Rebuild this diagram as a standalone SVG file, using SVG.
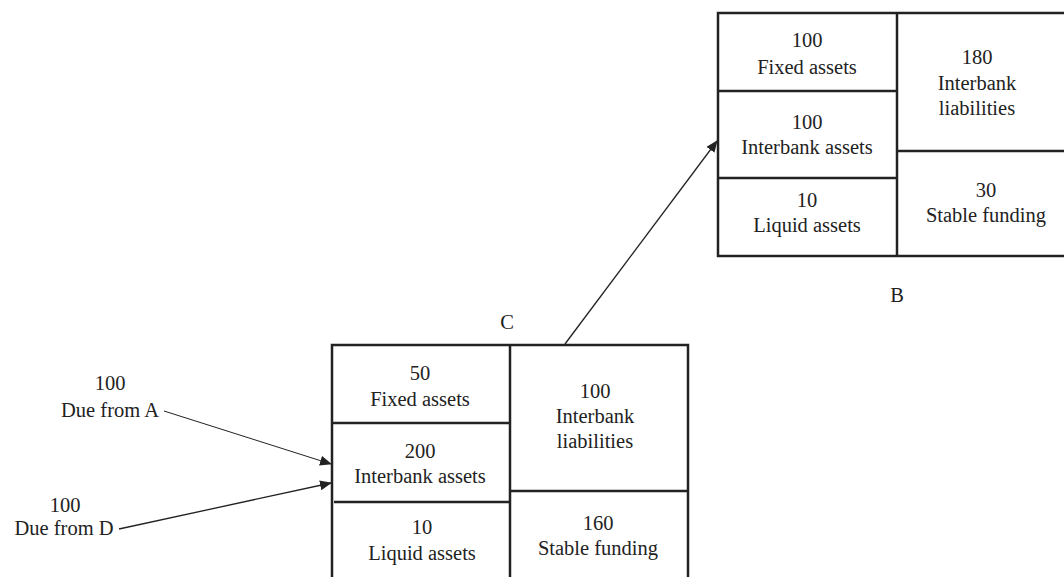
<svg xmlns="http://www.w3.org/2000/svg" width="1064" height="577" viewBox="0 0 1064 577">
<style>
text{font-family:"Liberation Serif","Times New Roman",serif;font-size:20.5px;fill:#222;text-anchor:middle}
.box{fill:none;stroke:#222;stroke-width:2.5}
.conn{fill:none;stroke:#222;stroke-width:1.3}
</style>
<defs>
<marker id="ah" markerWidth="12" markerHeight="10" refX="11" refY="5" orient="auto" markerUnits="userSpaceOnUse">
<path d="M0,0 L12,5 L0,10 Z" fill="#222"/>
</marker>
</defs>
<rect width="1064" height="577" fill="#fff"/>
<g id="bankB">
<rect class="box" x="718" y="13" width="350" height="243"/>
<line class="box" x1="897" y1="13" x2="897" y2="256"/>
<line class="box" x1="718" y1="91" x2="897" y2="91"/>
<line class="box" x1="718" y1="178" x2="897" y2="178"/>
<line class="box" x1="897" y1="151" x2="1066" y2="151"/>
<text x="807" y="47">100</text>
<text x="807" y="74">Fixed assets</text>
<text x="807" y="129">100</text>
<text x="807" y="154">Interbank assets</text>
<text x="807" y="207">10</text>
<text x="807" y="232">Liquid assets</text>
<text x="977" y="64">180</text>
<text x="977" y="90">Interbank</text>
<text x="977" y="115">liabilities</text>
<text x="986" y="197">30</text>
<text x="986" y="222">Stable funding</text>
<text x="897" y="302">B</text>
</g>
<g id="bankC">
<rect class="box" x="332" y="345" width="356" height="245"/>
<line class="box" x1="510" y1="345" x2="510" y2="590"/>
<line class="box" x1="332" y1="423" x2="510" y2="423"/>
<line class="box" x1="334" y1="502" x2="510" y2="502"/>
<line class="box" x1="510" y1="491" x2="688" y2="491"/>
<text x="420" y="380">50</text>
<text x="420" y="406">Fixed assets</text>
<text x="420" y="458">200</text>
<text x="420" y="483">Interbank assets</text>
<text x="422" y="534">10</text>
<text x="422" y="560">Liquid assets</text>
<text x="595" y="398">100</text>
<text x="595" y="423">Interbank</text>
<text x="595" y="448">liabilities</text>
<text x="598" y="530">160</text>
<text x="598" y="555">Stable funding</text>
<text x="507" y="329">C</text>
</g>
<g id="dueA">
<text x="110" y="390">100</text>
<text x="110" y="417">Due from A</text>
</g>
<g id="dueD">
<text x="65" y="512">100</text>
<text x="64" y="535">Due from D</text>
</g>
<g id="connectors">
<line class="conn" x1="164" y1="411" x2="331" y2="464" marker-end="url(#ah)" style="stroke-width:1"/>
<line class="conn" x1="119" y1="529" x2="331" y2="483" marker-end="url(#ah)"/>
<line class="conn" x1="565" y1="344" x2="717" y2="141" marker-end="url(#ah)"/>
</g>
</svg>
